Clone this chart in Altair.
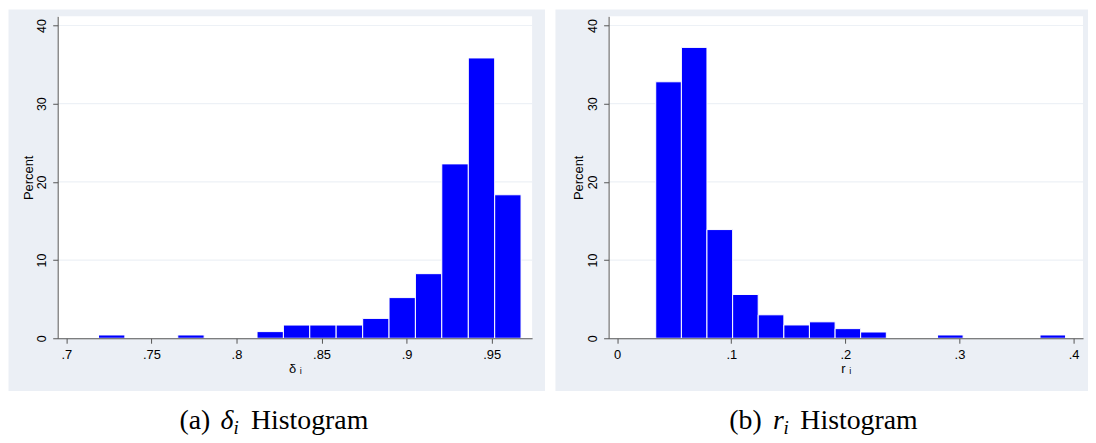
import altair as alt
import pandas as pd

# ---------------- data ----------------
# Panel (a): delta_i histogram, percent per bin (only non-empty bins)
delta_bin_lo = [0.7189, 0.7655, 0.8121, 0.8276, 0.8431, 0.8586, 0.8742, 0.8897,
                0.9052, 0.9207, 0.9363, 0.9518]
delta_bin_hi = [0.7344, 0.7810, 0.8276, 0.8431, 0.8586, 0.8742, 0.8897, 0.9052,
                0.9207, 0.9363, 0.9518, 0.9673]
delta_pct = [0.42, 0.42, 0.85, 1.69, 1.69, 1.69, 2.54, 5.2, 8.26, 22.3, 35.85, 18.35]

# Panel (b): r_i histogram
r_bin_lo = [0.0338, 0.0563, 0.0787, 0.1012, 0.1236, 0.1461, 0.1685, 0.1910,
            0.2134, 0.2808, 0.3706]
r_bin_hi = [0.0563, 0.0787, 0.1012, 0.1236, 0.1461, 0.1685, 0.1910, 0.2134,
            0.2359, 0.3032, 0.3930]
r_pct = [32.8, 37.2, 13.9, 5.6, 3.0, 1.7, 2.1, 1.23, 0.8, 0.42, 0.42]

delta_ticks = [0.7, 0.75, 0.8, 0.85, 0.9, 0.95]
r_ticks = [0.0, 0.1, 0.2, 0.3, 0.4]
y_ticks = [0, 10, 20, 30, 40]
grid_vals = [10, 20, 30, 40]

# ---------------- style ----------------
W, H = 477.5, 324
GREY = "#ebeff5"
GRIDC = "#edf1f6"
AXC = "#555555"
BLUE = "#0000ff"
SANS = "Liberation Sans"
SERIF = "Liberation Serif"

yscale = alt.Scale(domain=[0, 41.17], nice=False, zero=True)
one = pd.DataFrame({"k": [0]})
LABEL_EXPR = "datum.value == 0 ? '0' : substring(format(datum.value, '.2~f'), 1)"


def y_axis():
    return alt.Axis(values=y_ticks, title="Percent", grid=False, zindex=1,
                    domainColor=AXC, tickColor=AXC, tickSize=5,
                    labelFont=SANS, labelFontSize=12.5, labelColor="black",
                    labelAngle=270, labelAlign="center",
                    labelBaseline="alphabetic", labelPadding=7.5,
                    labelFlush=False, labelOverlap=False,
                    titleFont=SANS, titleFontSize=13, titleFontWeight="normal",
                    titleColor="black", titleAngle=270, titleX=-25.8,
                    titleY=H / 2, titleAlign="center",
                    titleBaseline="alphabetic")


def panel(lo, hi, pct, xdomain, xticks, xtitle, grey_x, cap):
    df = pd.DataFrame({"lo": lo, "hi": hi, "pct": pct})
    gdf = pd.DataFrame({"v": grid_vals})

    bg = alt.Chart(one).mark_rect(color=GREY).encode(
        x=alt.value(grey_x[0]), x2=alt.value(grey_x[1]),
        y=alt.value(-7), y2=alt.value(377))
    white = alt.Chart(one).mark_rect(color="white").encode(
        x=alt.value(0), x2=alt.value(W), y=alt.value(0), y2=alt.value(H))
    grid = alt.Chart(gdf).mark_rule(color=GRIDC, strokeWidth=1.2).encode(
        y=alt.Y("v:Q", scale=yscale, axis=y_axis()),
        x=alt.value(0), x2=alt.value(W))
    bars = alt.Chart(df).mark_rect(color=BLUE, stroke="white", strokeWidth=1).encode(
        x=alt.X("lo:Q", scale=alt.Scale(domain=xdomain, nice=False, zero=False),
                axis=alt.Axis(values=xticks, labelExpr=LABEL_EXPR, title=xtitle,
                              grid=False, zindex=1, domainColor=AXC, tickColor=AXC,
                              tickSize=5, labelFont=SANS, labelFontSize=13,
                              labelColor="black", labelBaseline="alphabetic",
                              labelAlign="center", labelPadding=15.3,
                              labelFlush=False, labelOverlap=False,
                              titleFont=SANS, titleFontSize=13, titleFontWeight="normal",
                              titleColor="black", titleX=W / 2, titleY=34,
                              titleBaseline="alphabetic", titleAlign="center")),
        x2="hi:Q",
        y=alt.Y("pct:Q", scale=yscale, axis=y_axis()),
        y2=alt.datum(0))

    texts = []
    for (txt, xpos, ypos, size, style) in cap:
        texts.append(alt.Chart(one).mark_text(
            text=txt, font=SERIF, fontSize=size, fontStyle=style, align="left",
            baseline="alphabetic", color="black").encode(
                x=alt.value(xpos), y=alt.value(ypos)))

    return alt.layer(bg, white, grid, bars, *texts).properties(width=W, height=H)


left = panel(delta_bin_lo, delta_bin_hi, delta_pct, [0.6949, 0.9738], delta_ticks,
             "δ ᵢ", (-49.5, 490.5),
             [("(a)", 122.5, 415, 28, "normal"), ("δ", 164, 415, 28, "italic"),
              ("i", 177, 420, 19, "italic"), ("Histogram", 194.5, 415, 28, "normal")])
right = panel(r_bin_lo, r_bin_hi, r_pct, [-0.0075, 0.4083], r_ticks,
              "r ᵢ", (-53.5, 482.5),
              [("(b)", 121.5, 415, 28, "normal"), ("r", 165.5, 415, 28, "italic"),
               ("i", 176, 420, 19, "italic"), ("Histogram", 193, 415, 28, "normal")])

chart = alt.hconcat(left, right, spacing=76.5, bounds="flush").properties(
    padding=0).configure(background="white").configure_view(stroke=None)

chart.save("out.html", embed_options={"renderer": "svg", "actions": False})
